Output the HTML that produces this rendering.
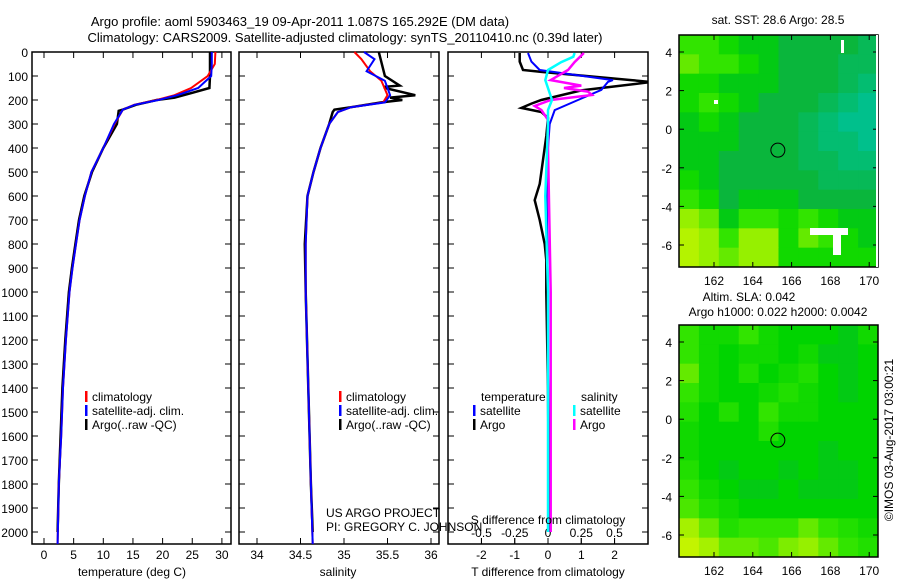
<!DOCTYPE html>
<html><head><meta charset="utf-8">
<style>
html,body{margin:0;padding:0;background:#fff;}
svg{display:block;font-family:"Liberation Sans",sans-serif;}
text{font-size:12px;fill:#000;}
</style></head>
<body>
<svg id="c" width="900" height="580" viewBox="0 0 900 580" xmlns="http://www.w3.org/2000/svg">
<text x="300" y="26" text-anchor="middle" style="font-size:13px">Argo profile: aoml 5903463_19 09-Apr-2011 1.087S 165.292E (DM data)</text>
<text x="345" y="42" text-anchor="middle" style="font-size:13px">Climatology: CARS2009. Satellite-adjusted climatology: synTS_20110410.nc (0.39d later)</text>
<g id="g"></g>
</svg>
<script>
// ---- data ----
const tClimDepth=[0,50,100,150,180,200,220,240,300,400,500,600,700,800,900,1000,1200,1400,1600,1800,2050];
const tClimVal=[28.9,28.8,27.6,24.8,22,19,15.2,13.3,11.9,10.0,8.0,6.9,6.0,5.4,4.8,4.3,3.7,3.2,2.9,2.5,2.3];
const tSatVal=[28.3,28.3,28.2,26,22.5,19.3,15.3,13.3,11.8,10.0,8.0,6.9,6.0,5.4,4.8,4.3,3.7,3.2,2.9,2.5,2.3];
const tArgoDepth=[0,50,100,150,170,190,200,220,240,245,300,400,500,600,700,800,900,1000,1200,1400,1600,1800,2000];
const tArgoVal=[28.0,28.0,28.0,27.9,25,22,19,15.5,13.3,12.6,12.3,10.0,8.1,6.8,5.9,5.3,4.7,4.2,3.6,3.1,2.8,2.5,2.3];
const sDepth=[0,30,80,120,180,210,230,250,300,400,500,600,800,1000,1400,1800,2050];
const sClimVal=[35.12,35.2,35.3,35.43,35.5,35.45,35.08,34.93,34.83,34.73,34.65,34.58,34.56,34.56,34.59,34.62,34.64];
const sSatVal=[35.23,35.35,35.26,35.47,35.53,35.47,35.08,34.93,34.83,34.73,34.65,34.58,34.56,34.56,34.59,34.62,34.64];
const sArgoDepth=[0,100,140,145,150,180,190,200,210,230,240,250,300,400,500,600,800,1000,1400,1800,2000];
const sArgoVal=[35.4,35.47,35.64,35.47,35.47,35.82,35.53,35.67,35.43,35.08,34.89,34.87,34.83,34.73,34.65,34.58,34.55,34.56,34.59,34.62,34.64];
const dTDepth=[4,40,75,83,117,125,160,200,215,233,250,275,350,450,550,617,700,800,867,1000,1400,1800,2000];
const dTArgo=[-0.85,-0.85,-0.75,-0.2,2.5,3.1,1.0,-0.2,-0.5,-0.8,-0.2,0.0,-0.05,-0.15,-0.25,-0.4,-0.25,-0.1,-0.05,-0.05,0.0,0.02,0.02];
const dTSatDepth=[4,40,75,117,125,158,200,242,300,500,1000,2000];
const dTSat=[-0.6,-0.5,-0.25,1.95,1.8,1.6,0.9,0.2,0.05,-0.05,0.0,0.0];
const dSSatDepth=[4,20,42,75,117,200,242,300,600,1000,2000];
const dSSat=[0.2,0.19,0.1,0.0,-0.02,0.03,0.0,0.0,-0.02,0.0,0.0];
const dSArgoDepth=[4,42,75,117,140,150,165,179,200,225,242,283,400,1000,2000];
const dSArgo=[0.27,0.2,0.15,0.02,0.25,0.12,0.3,0.33,0.02,-0.1,-0.05,0.0,0.0,0.02,0.02];
const depthTicks=[0,100,200,300,400,500,600,700,800,900,1000,1100,1200,1300,1400,1500,1600,1700,1800,1900,2000];
const tTicks=[0,5,10,15,20,25,30];
const sTicks=[34,34.5,35,35.5,36];
const dTTicks=[-2,-1,0,1,2];
const dSTicks=[-0.5,-0.25,0,0.25,0.5];
const lonTicks=[162,164,166,168,170];
const latTicks=[4,2,0,-2,-4,-6];
const sstGrid=[
[.6,.6,.5,.4,.4,.3,.3,.3,.3,.2],
[.7,.6,.6,.5,.4,.3,.3,.3,.2,.2],
[.5,.5,.4,.4,.4,.3,.3,.3,.2,.1],
[.5,.6,.5,.4,.3,.3,.3,.2,.1,.0],
[.4,.5,.4,.3,.3,.3,.2,.1,.0,.0],
[.4,.4,.4,.3,.3,.3,.2,.1,.1,.0],
[.4,.4,.3,.3,.3,.3,.2,.2,.1,.1],
[.5,.4,.3,.3,.3,.3,.3,.2,.2,.2],
[.6,.5,.3,.4,.4,.4,.3,.3,.3,.3],
[.8,.7,.4,.6,.6,.5,.6,.5,.4,.4],
[.9,.8,.6,.8,.8,.5,.7,.6,.5,.4],
[.9,.8,.7,.8,.8,.5,.5,.5,.5,.5]];
const slaGrid=[
[.6,.5,.5,.6,.5,.45,.45,.45,.4,.5],
[.6,.5,.45,.5,.5,.45,.5,.4,.4,.45],
[.7,.5,.45,.55,.45,.5,.55,.45,.4,.45],
[.6,.5,.45,.45,.5,.55,.5,.45,.4,.45],
[.55,.45,.55,.45,.6,.5,.5,.45,.45,.45],
[.5,.45,.45,.45,.55,.45,.45,.45,.45,.45],
[.5,.45,.45,.45,.45,.45,.45,.4,.45,.45],
[.55,.45,.4,.45,.45,.4,.45,.4,.4,.45],
[.6,.5,.45,.4,.4,.45,.4,.4,.4,.45],
[.65,.55,.5,.45,.45,.45,.45,.45,.45,.45],
[.85,.7,.55,.6,.6,.6,.7,.6,.55,.5],
[.95,.85,.7,.7,.65,.75,.8,.7,.6,.55]];
// ---- layout ----
const NS='http://www.w3.org/2000/svg';
const G=document.getElementById('g');
function el(t,a,p){const e=document.createElementNS(NS,t);for(const k in a)e.setAttribute(k,a[k]);(p||G).appendChild(e);return e;}
const yD=d=>52+0.24*d;
const xT=v=>44+5.93*v, xS=v=>257+87*(v-34), xdT=v=>548+33.3*v, xdS=v=>548+133*v;
const panels=[[32,231],[239,439],[448,648]];
panels.forEach((p,i)=>{
 const r=el('rect',{x:p[0],y:52,width:p[1]-p[0],height:492,fill:'none',stroke:'#000','stroke-width':1.5});
 
 
 depthTicks.forEach(d=>{
  el('line',{x1:p[0],x2:p[0]+6,y1:yD(d),y2:yD(d),stroke:'#000'});
  el('line',{x1:p[1]-6,x2:p[1],y1:yD(d),y2:yD(d),stroke:'#000'});
 });
});
depthTicks.forEach(d=>{
 const t=el('text',{x:28,y:yD(d)+5,'text-anchor':'end'});t.textContent=d;
 
 
});
function xticks(ticks,fx,labY,inside){
 ticks.forEach(v=>{
  const x=fx(v);
  el('line',{x1:x,x2:x,y1:538,y2:544,stroke:'#000'});
  if(!inside)el('line',{x1:x,x2:x,y1:52,y2:58,stroke:'#000'});
  const t=el('text',{x:x,y:labY,'text-anchor':'middle'});t.textContent=v;
  
  
 });
}
xticks(tTicks,xT,559);
xticks(sTicks,xS,559);
xticks(dTTicks,xdT,559);
xticks(dSTicks,xdS,537,true);
function line(ds,vs,fx,color,w,name,parent){
 const pts=ds.map((d,i)=>fx(vs[i]).toFixed(1)+','+yD(d).toFixed(1)).join(' ');
 const l=el('polyline',{points:pts,fill:'none',stroke:color,'stroke-width':w},parent);
 
 
}
el('clipPath',{id:'cp3'}).appendChild(el('rect',{x:448,y:52,width:200,height:492}));
line(tArgoDepth,tArgoVal,xT,'#000',2.5,'temperature-argo-line');
line(tClimDepth,tClimVal,xT,'#f00',2,'temperature-climatology-line');
line(tClimDepth,tSatVal,xT,'#00f',2,'temperature-satellite-line');
line(sArgoDepth,sArgoVal,xS,'#000',2.5,'salinity-argo-line');
line(sDepth,sClimVal,xS,'#f00',2,'salinity-climatology-line');
line(sDepth,sSatVal,xS,'#00f',2,'salinity-satellite-line');
const g3=el('g',{'clip-path':'url(#cp3)'});
line(dTDepth,dTArgo,xdT,'#000',2.5,'t-diff-argo-line',g3);
line(dTSatDepth,dTSat,xdT,'#00f',2,'t-diff-satellite-line',g3);
line(dSArgoDepth,dSArgo,xdS,'#f0f',2.5,'s-diff-argo-line',g3);
line(dSSatDepth,dSSat,xdS,'#0ff',2.5,'s-diff-satellite-line',g3);
function txt(x,y,s,name,anchor,extra){const t=el('text',Object.assign({x:x,y:y,'text-anchor':anchor||'start'},extra||{}));t.textContent=s;
 
 return t;}
txt(132,576,'temperature (deg C)','x-axis-title-temperature','middle');
txt(338,576,'salinity','x-axis-title-salinity','middle');
txt(548,576,'T difference from climatology','x-axis-title-t-diff','middle');
txt(548,524,'S difference from climatology','s-diff-axis-title','middle');
txt(326,517,'US ARGO PROJECT','project-label');
txt(326,531,'PI: GREGORY C. JOHNSON','pi-label');
function leg(x,y,c,s,n){el('rect',{x:x,y:y-10,width:2.5,height:11,fill:c});txt(x+7,y,s,n);}
leg(85,401,'#f00','climatology','legend-climatology');
leg(85,415,'#00f','satellite-adj. clim.','legend-satellite');
leg(85,429,'#000','Argo(..raw -QC)','legend-argo');
leg(339,401,'#f00','climatology','legend-climatology-2');
leg(339,415,'#00f','satellite-adj. clim.','legend-satellite-2');
leg(339,429,'#000','Argo(..raw -QC)','legend-argo-2');
txt(481,401,'temperature','legend-temperature-heading');
leg(473,415,'#00f','satellite','legend-t-satellite');
leg(473,429,'#000','Argo','legend-t-argo');
txt(581,401,'salinity','legend-salinity-heading');
leg(573,415,'#0ff','satellite','legend-s-satellite');
leg(573,429,'#f0f','Argo','legend-s-argo');
function col(v){
 const stops=[[0,[0,192,140]],[0.3,[10,182,60]],[0.45,[0,212,0]],[0.6,[50,228,0]],[0.8,[150,240,0]],[1,[210,245,0]]];
 for(let i=1;i<stops.length;i++){if(v<=stops[i][0]){const a=stops[i-1],b=stops[i],f=(v-a[0])/(b[0]-a[0]);
  return 'rgb('+a[1].map((c,k)=>Math.round(c+(b[1][k]-c)*f)).join(',')+')';}}
 return 'rgb(210,245,0)';
}
function map(top,grid,name){
 const L=679,R=878,B=top+232;
 const lx=lon=>714+(lon-162)*19.4, ly=lat=>top+17+(4-lat)*19.3;
 const cw=(R-L)/grid[0].length, ch=(B-top)/grid.length;
 grid.forEach((row,r)=>row.forEach((v,c)=>{
  const e=el('rect',{x:L+c*cw,y:top+r*ch,width:cw+0.5,height:ch+0.5,fill:col(v)});
  
  
 }));
 const f=el('rect',{x:L,y:top,width:R-L,height:B-top,fill:'none',stroke:'#000','stroke-width':1.5});
 
 
 lonTicks.forEach(v=>{const x=lx(v);el('line',{x1:x,x2:x,y1:B-5,y2:B,stroke:'#000'});el('line',{x1:x,x2:x,y1:top,y2:top+5,stroke:'#000'});
  txt(x,B+18,v,'map-lon-tick-label','middle');});
 latTicks.forEach(v=>{const y=ly(v);el('line',{x1:L,x2:L+5,y1:y,y2:y,stroke:'#000'});el('line',{x1:R-5,x2:R,y1:y,y2:y,stroke:'#000'});
  txt(672,y+5,v,'map-lat-tick-label','end');});
 const c=el('circle',{cx:lx(165.292),cy:ly(-1.087),r:7,fill:'none',stroke:'#000'});
 
 
}
map(35,sstGrid,'sst-map');
el('rect',{x:810,y:228,width:38,height:7,fill:'#fff'});
el('rect',{x:833,y:235,width:8,height:20,fill:'#fff'});
el('rect',{x:841,y:40,width:3,height:13,fill:'#fff'});
el('rect',{x:714,y:100,width:4,height:4,fill:'#fff'});
el('rect',{x:876,y:35,width:2,height:232,fill:'#fff'});
map(325,slaGrid,'sla-map');
txt(778,24,'sat. SST: 28.6 Argo: 28.5','sst-map-title','middle');
txt(749,301,'Altim. SLA: 0.042','sla-map-title','middle');
txt(778,316,'Argo h1000: 0.022 h2000: 0.0042','sla-map-subtitle','middle');
txt(893,440,'©IMOS 03-Aug-2017 03:00:21','imos-timestamp','middle',{transform:'rotate(-90 893 440)'});
</script>
</body></html>
